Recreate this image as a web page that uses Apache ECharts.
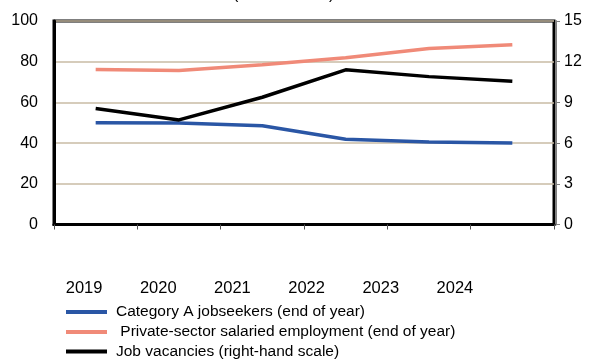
<!DOCTYPE html>
<html>
<head>
<meta charset="utf-8">
<script src="https://cdn.jsdelivr.net/npm/echarts@6/dist/echarts.min.js"></script>
<style>html,body{margin:0;padding:0;background:#fff;}#c{width:589px;height:360px;}</style>
</head>
<body>
<div id="c"></div>
<script>
var categories = ['2019', '2020', '2021', '2022', '2023', '2024'];
var jobseekers = [50.0, 49.9, 48.5, 41.9, 40.6, 40.0];
var privateEmployment = [76.2, 75.7, 78.5, 81.9, 86.5, 88.3];
var vacancies = [8.55, 7.71, 9.38, 11.4, 10.9, 10.55];
var leftTicks = [0, 20, 40, 60, 80, 100];
var rightTicks = [0, 3, 6, 9, 12, 15];
var seriesNames = ['Category A jobseekers (end of year)', ' Private-sector salaried employment (end of year)', 'Job vacancies (right-hand scale)'];

var font = 'Liberation Sans, Arial, sans-serif';
var legendTops = [304, 324, 343.5];
var legends = seriesNames.map(function (n, i) {
  return {
    orient: 'horizontal', left: 66, top: legendTops[i],
    icon: 'rect', itemWidth: 41, itemHeight: 4, itemGap: 0, padding: 0,
    textStyle: {fontFamily: font, fontSize: 15.5, color: '#000', padding: [0, 0, 0, 4]},
    data: [n]
  };
});
var chart = echarts.init(document.getElementById('c'), null, {renderer: 'canvas'});
chart.setOption({
  animation: false,
  title: {
    text: '(in thousands)',
    left: 228, top: -18,
    textStyle: {fontFamily: font, fontSize: 16, fontWeight: 'normal', color: '#000'}
  },
  grid: [
    {left: 54, right: 35, top: 21, height: 203.5, show: true, borderColor: '#000', borderWidth: 3, backgroundColor: 'transparent'},
    {left: 47, width: 445, top: 240, height: 30, show: false}
  ],
  legend: legends,
  xAxis: [
    {
      type: 'category', data: categories, gridIndex: 0, boundaryGap: true,
      axisLine: {show: true, lineStyle: {color: '#000', width: 3}},
      axisTick: {show: true, length: 5, lineStyle: {color: '#555', width: 1}, alignWithLabel: false},
      axisLabel: {show: false}
    },
    {
      type: 'category', data: categories, gridIndex: 1, position: 'bottom',
      axisLine: {show: false}, axisTick: {show: false},
      axisLabel: {show: true, fontFamily: font, fontSize: 16.5, color: '#000', margin: 10}
    }
  ],
  yAxis: [
    {
      type: 'value', min: leftTicks[0], max: leftTicks[leftTicks.length - 1], interval: 20, gridIndex: 0,
      axisLine: {show: true, lineStyle: {color: '#000', width: 3}},
      axisTick: {show: false},
      axisLabel: {fontFamily: font, fontSize: 16, color: '#000', margin: 16},
      splitLine: {show: true, lineStyle: {color: '#c9bba4', width: 1.5}}
    },
    {
      type: 'value', min: rightTicks[0], max: rightTicks[rightTicks.length - 1], interval: 3, gridIndex: 0,
      position: 'right', offset: 2,
      axisLine: {show: true, lineStyle: {color: '#808080', width: 2}},
      axisTick: {show: true, length: 4, lineStyle: {color: '#808080', width: 1}},
      axisLabel: {fontFamily: font, fontSize: 16, color: '#000', margin: 8},
      splitLine: {show: false}
    },
    {type: 'value', gridIndex: 1, show: false}
  ],
  series: [
    {name: seriesNames[0], type: 'line', xAxisIndex: 0, yAxisIndex: 0, data: jobseekers, symbol: 'none',
     lineStyle: {color: '#2a56a5', width: 3.5}, itemStyle: {color: '#2a56a5'}},
    {name: seriesNames[1], type: 'line', xAxisIndex: 0, yAxisIndex: 0, data: privateEmployment, symbol: 'none',
     lineStyle: {color: '#f08a78', width: 3.5}, itemStyle: {color: '#f08a78'}},
    {name: seriesNames[2], type: 'line', xAxisIndex: 0, yAxisIndex: 1, data: vacancies, symbol: 'none',
     lineStyle: {color: '#000', width: 3.5}, itemStyle: {color: '#000'}}
  ]
});
</script>
</body>
</html>
